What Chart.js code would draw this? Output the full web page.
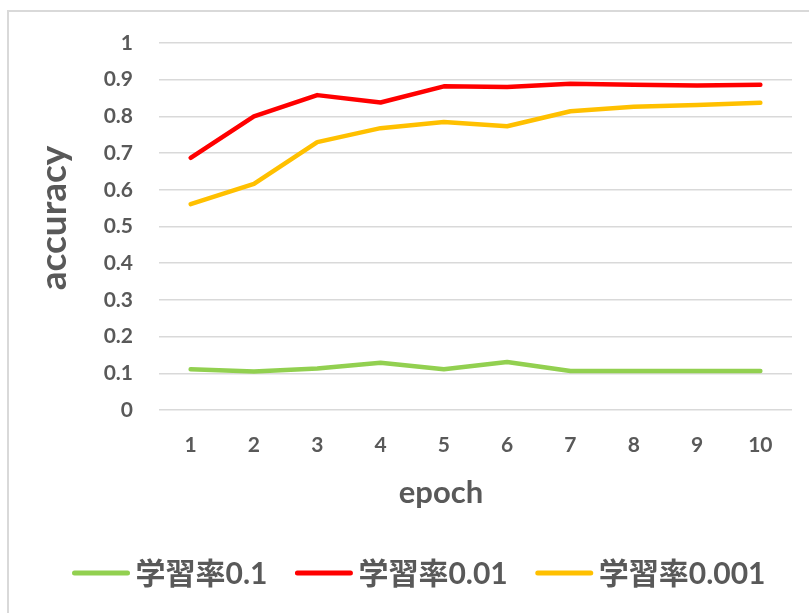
<!DOCTYPE html>
<html>
<head>
<meta charset="utf-8">
<script src="https://cdn.jsdelivr.net/npm/chart.js@4/dist/chart.umd.min.js"></script>
<style>
  html, body { margin: 0; padding: 0; background: #ffffff; }
  #wrap { position: relative; width: 809px; height: 613px; }
</style>
</head>
<body>
<div id="wrap"><canvas id="chart" width="809" height="613"></canvas></div>
<script>
// epochs on the category axis
const epochs = ['1', '2', '3', '4', '5', '6', '7', '8', '9', '10'];

// accuracy per epoch for each learning rate
const acc_lr_0_1   = [0.111, 0.105, 0.113, 0.129, 0.111, 0.131, 0.106, 0.106, 0.106, 0.106];
const acc_lr_0_01  = [0.687, 0.800, 0.858, 0.838, 0.882, 0.880, 0.889, 0.886, 0.884, 0.886];
const acc_lr_0_001 = [0.561, 0.616, 0.730, 0.768, 0.785, 0.773, 0.814, 0.826, 0.831, 0.837];

const seriesNames = ['学習率0.1', '学習率0.01', '学習率0.001'];
const yTickLabels = ['0', '0.1', '0.2', '0.3', '0.4', '0.5', '0.6', '0.7', '0.8', '0.9', '1'];
const xTitle = 'epoch';
const yTitle = 'accuracy';

const TEXT = '#595959';
const GRID = '#d9d9d9';
const LATIN = 'Lato, "Noto Sans CJK JP", sans-serif';

// frame around the chart, axis titles and the legend row
const decor = {
  id: 'decor',
  beforeDraw(chart) {
    const ctx = chart.ctx;
    ctx.save();
    ctx.strokeStyle = GRID;
    ctx.lineWidth = 2;
    ctx.strokeRect(8, 11, 900, 700);
    ctx.restore();
  },
  afterDraw(chart) {
    const ctx = chart.ctx;
    ctx.save();
    ctx.fillStyle = TEXT;
    ctx.textAlign = 'center';
    ctx.textBaseline = 'alphabetic';

    // x-axis title
    ctx.font = 'bold 31px ' + LATIN;
    ctx.fillText(xTitle, 441, 503);

    // y-axis title, rotated
    ctx.font = 'bold 37px ' + LATIN;
    ctx.translate(66, 218);
    ctx.rotate(-Math.PI / 2);
    ctx.fillText(yTitle, 0, 0);
    ctx.restore();

    // legend
    ctx.save();
    ctx.font = 'bold 30px ' + LATIN;
    ctx.textBaseline = 'middle';
    ctx.textAlign = 'left';
    const lineW = 57, gap = 6, itemGap = 28;
    const items = chart.data.datasets.map(ds => ({
      text: ds.label, color: ds.borderColor, w: ctx.measureText(ds.label).width
    }));
    let total = 0;
    items.forEach((it, i) => { total += lineW + gap + it.w + (i ? itemGap : 0); });
    let x = 419 - total / 2;
    const y = 573;
    items.forEach(it => {
      ctx.strokeStyle = it.color;
      ctx.lineWidth = 5;
      ctx.lineCap = 'round';
      ctx.beginPath();
      ctx.moveTo(x + 2, y);
      ctx.lineTo(x + lineW - 2, y);
      ctx.stroke();
      x += lineW + gap;
      ctx.fillStyle = TEXT;
      ctx.fillText(it.text, x, y + 1);
      x += it.w + itemGap;
    });
    ctx.restore();
  }
};

const lineStyle = { borderWidth: 4.5, pointRadius: 0, tension: 0, borderCapStyle: 'round', borderJoinStyle: 'round', fill: false };

new Chart(document.getElementById('chart'), {
  type: 'line',
  data: {
    labels: epochs,
    datasets: [
      Object.assign({ label: seriesNames[0], data: acc_lr_0_1,   borderColor: '#92D050', backgroundColor: '#92D050' }, lineStyle),
      Object.assign({ label: seriesNames[1], data: acc_lr_0_01,  borderColor: '#FF0000', backgroundColor: '#FF0000' }, lineStyle),
      Object.assign({ label: seriesNames[2], data: acc_lr_0_001, borderColor: '#FFC000', backgroundColor: '#FFC000' }, lineStyle)
    ]
  },
  options: {
    responsive: false,
    animation: false,
    layout: { padding: { left: 8, right: 17, top: 43, bottom: 103 } },
    plugins: { legend: { display: false }, tooltip: { enabled: false } },
    scales: {
      x: {
        offset: true,
        grid: { display: false, drawTicks: false },
        border: { display: false },
        ticks: { color: TEXT, font: { family: LATIN, size: 21, weight: 'bold' }, padding: 23, maxRotation: 0 },
        afterFit(scale) { scale.height = 100; }
      },
      y: {
        min: 0, max: 1,
        grid: { color: GRID, lineWidth: 1.5, drawTicks: false },
        border: { display: false },
        ticks: {
          stepSize: 0.1,
          color: TEXT,
          font: { family: LATIN, size: 21, weight: 'bold' },
          padding: 26,
          callback: (v, i) => yTickLabels[i]
        },
        afterFit(scale) { scale.width = 151; }
      }
    }
  },
  plugins: [decor]
});
</script>
</body>
</html>
